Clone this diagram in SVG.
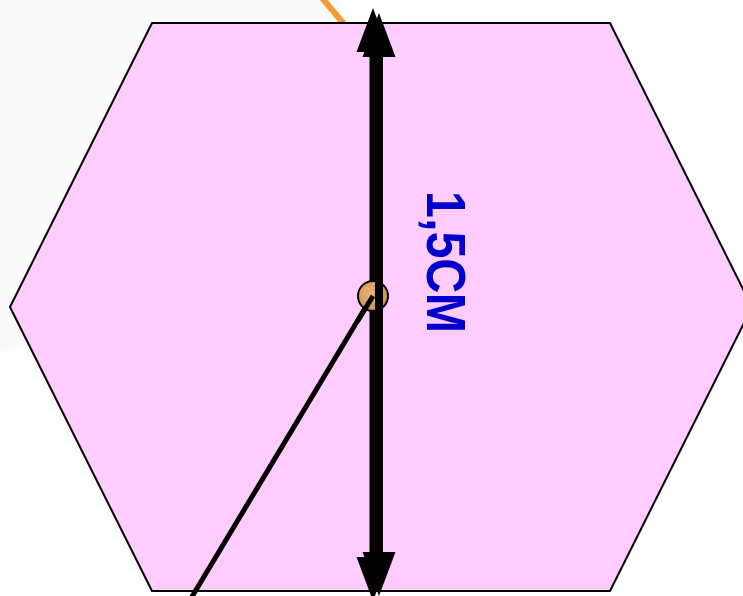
<svg xmlns="http://www.w3.org/2000/svg" width="743" height="596" viewBox="0 0 743 596">
<defs>
<style>
.hex{fill:#ffccff;stroke:#000;stroke-width:2;stroke-linejoin:miter}
.shaft{stroke:#000;fill:none}
.lbl{font-family:"Liberation Sans",Arial,sans-serif;font-weight:bold;font-size:56px;fill:#0000cc}
</style>
<marker id="ah" markerUnits="userSpaceOnUse" markerWidth="48" markerHeight="38" viewBox="-11 -19 48 38" refX="0" refY="0" orient="auto-start-reverse">
<path d="M35,0 L-9,-16.5 L-9,16.5 Z" fill="#000"/>
</marker>
<radialGradient id="wood" cx="0.4" cy="0.4" r="0.7">
<stop offset="0" stop-color="#e8b57a"/>
<stop offset="1" stop-color="#c98a4a"/>
</radialGradient>
</defs>
<rect width="743" height="596" fill="#fefefe"/>
<polygon points="0,0 340,0 340,220 0,352" fill="#fafafa"/>
<g id="orange-line">
<line x1="322" y1="-2" x2="344" y2="24" stroke="#f59a35" stroke-width="6"/>
</g>
<g id="hexagon">
<polygon class="hex" points="152,23 610,23 752,307 610,591 152,591 10,307"/>
</g>
<g id="connectors">
<line class="shaft" x1="373" y1="43" x2="373" y2="566" stroke-width="7" marker-start="url(#ah)" marker-end="url(#ah)"/>
<line x1="373" y1="295" x2="190" y2="600" stroke="#000" stroke-width="5"/>
</g>
<g id="center">
<circle cx="373" cy="296" r="15" fill="url(#wood)" stroke="#000" stroke-width="2"/>
</g>
<g id="connectors-top">
<line class="shaft" x1="379" y1="48" x2="379" y2="561" stroke-width="8" marker-start="url(#ah)" marker-end="url(#ah)"/>
<line x1="373" y1="296" x2="357" y2="322" stroke="#000" stroke-width="5"/>
</g>
<g id="label">
<text class="lbl" transform="translate(427,191) rotate(90)" x="0" y="0" textLength="142" lengthAdjust="spacingAndGlyphs">1,5СМ</text>
</g>
</svg>
